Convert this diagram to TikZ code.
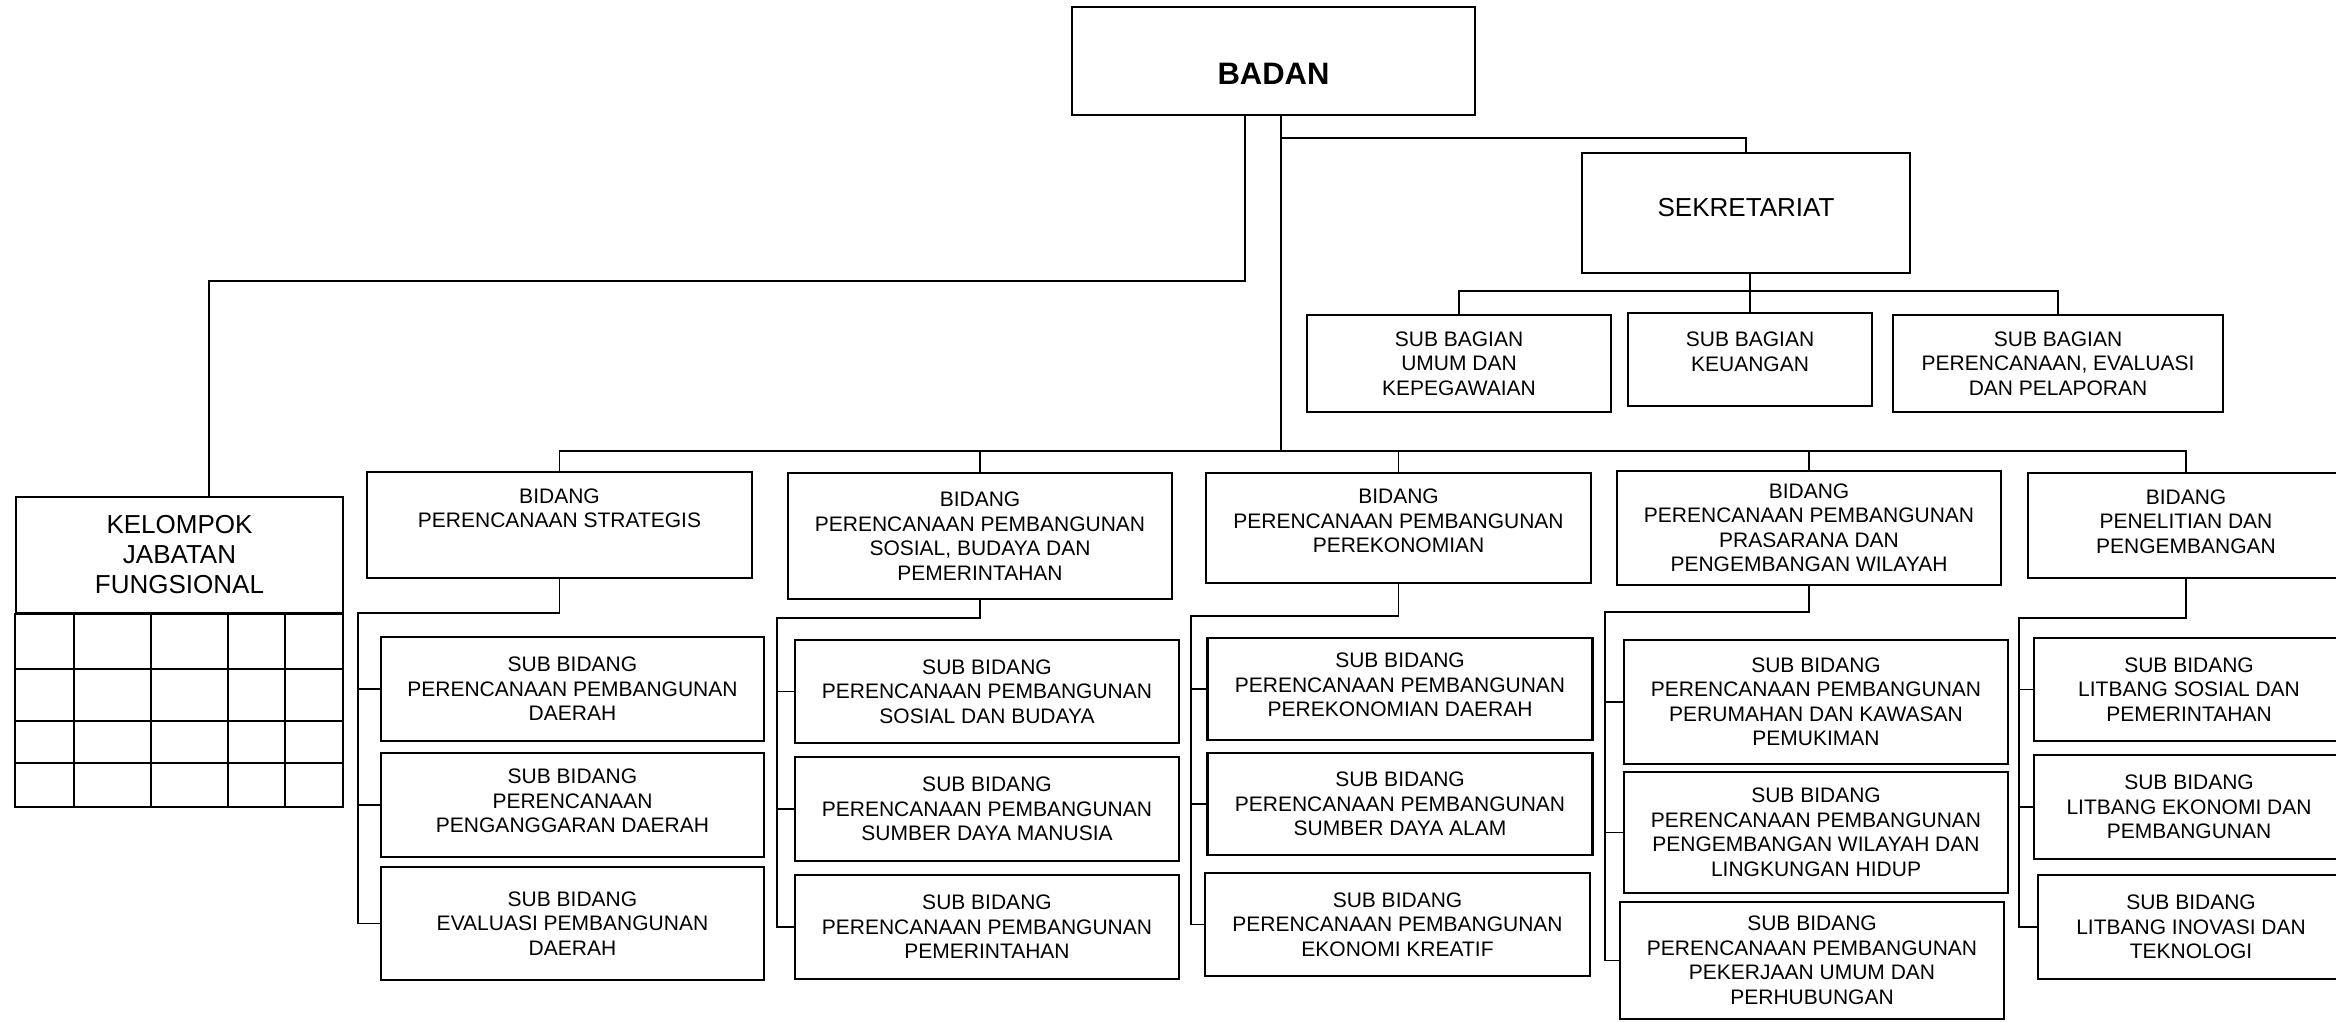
\documentclass[tikz,border=0pt]{standalone}
\usepackage{fontspec}
\setmainfont{Liberation Sans}
\usetikzlibrary{positioning}

\begin{document}
\begin{tikzpicture}[x=1pt, y=-1pt,
    unit/.style={rectangle, draw, line width=2.2pt, align=center, inner sep=1pt, font=\fontsize{21}{24.5}\selectfont},
    lift/.style={text depth=#1},
    drop/.style={text height=#1},
    link/.style={line width=1.6pt}]
    \useasboundingbox (0,0) rectangle (2336,1021);
    \clip (0,0) rectangle (2336,1021);

    % Top level
    \node[unit, drop=46pt, minimum width=403pt, minimum height=108pt, font=\fontsize{31}{34}\selectfont\bfseries] (BADAN) at (1273.5,61) {BADAN};

    % Sekretariat
    \node[unit, lift=12pt, minimum width=328pt, minimum height=120pt, font=\fontsize{26}{30}\selectfont] (SEKR) at (1746,213) {SEKRETARIAT};
    \node[unit, minimum width=304pt, minimum height=97pt] (SUBBAG1) at (1459,363.5) {SUB BAGIAN\\UMUM DAN\\KEPEGAWAIAN};
    \node[unit, lift=16pt, minimum width=244pt, minimum height=93pt] (SUBBAG2) at (1750,359.5) {SUB BAGIAN\\KEUANGAN};
    \node[unit, minimum width=330pt, minimum height=97pt] (SUBBAG3) at (2058,363.5) {SUB BAGIAN\\PERENCANAAN, EVALUASI\\DAN PELAPORAN};

    % Kelompok jabatan fungsional
    \node[unit, minimum width=327pt, minimum height=116pt, font=\fontsize{26}{30}\selectfont] (JF) at (179.5,555) {KELOMPOK\\JABATAN\\FUNGSIONAL};
    \draw[line width=2.2pt] (JF.south west) rectangle (343,807);
    \foreach \y in {669,721,763} \draw[link] (16,\y) -- (343,\y);
    \foreach \x in {74,151,228,285} \draw[link] (\x,613) -- (\x,807);

    % Bidang
    \node[unit, lift=34pt, minimum width=385pt, minimum height=106pt] (BID1) at (559.5,525) {BIDANG\\PERENCANAAN STRATEGIS};
    \node[unit, minimum width=384pt, minimum height=126pt] (BID2) at (980,536) {BIDANG\\PERENCANAAN PEMBANGUNAN\\SOSIAL, BUDAYA DAN\\PEMERINTAHAN};
    \node[unit, lift=14pt, minimum width=385pt, minimum height=110pt] (BID3) at (1398.5,528) {BIDANG\\PERENCANAAN PEMBANGUNAN\\PEREKONOMIAN};
    \node[unit, minimum width=384pt, minimum height=114pt] (BID4) at (1809,528) {BIDANG\\PERENCANAAN PEMBANGUNAN\\PRASARANA DAN\\PENGEMBANGAN WILAYAH};
    \node[unit, lift=8pt, minimum width=316pt, minimum height=105pt] (BID5) at (2186,525.5) {BIDANG\\PENELITIAN DAN\\PENGEMBANGAN};

    % Sub bidang
    \node[unit, minimum width=383pt, minimum height=104pt] (SUB11) at (572.5,689) {SUB BIDANG\\PERENCANAAN PEMBANGUNAN\\DAERAH};
    \node[unit, lift=8pt, minimum width=383pt, minimum height=104pt] (SUB12) at (572.5,805) {SUB BIDANG\\PERENCANAAN\\PENGANGGARAN DAERAH};
    \node[unit, minimum width=383pt, minimum height=113pt] (SUB13) at (572.5,923.5) {SUB BIDANG\\EVALUASI PEMBANGUNAN\\DAERAH};

    \node[unit, minimum width=384pt, minimum height=103pt] (SUB21) at (987,691.5) {SUB BIDANG\\PERENCANAAN PEMBANGUNAN\\SOSIAL DAN BUDAYA};
    \node[unit, minimum width=384pt, minimum height=104pt] (SUB22) at (987,809) {SUB BIDANG\\PERENCANAAN PEMBANGUNAN\\SUMBER DAYA MANUSIA};
    \node[unit, minimum width=384pt, minimum height=104pt] (SUB23) at (987,927) {SUB BIDANG\\PERENCANAAN PEMBANGUNAN\\PEMERINTAHAN};

    \node[unit, lift=8pt, minimum width=385pt, minimum height=102pt] (SUB31) at (1400,689) {SUB BIDANG\\PERENCANAAN PEMBANGUNAN\\PEREKONOMIAN DAERAH};
    \node[unit, minimum width=385pt, minimum height=102pt] (SUB32) at (1400,804) {SUB BIDANG\\PERENCANAAN PEMBANGUNAN\\SUMBER DAYA ALAM};
    \node[unit, minimum width=385pt, minimum height=103pt] (SUB33) at (1397.5,924.5) {SUB BIDANG\\PERENCANAAN PEMBANGUNAN\\EKONOMI KREATIF};

    \node[unit, minimum width=384pt, minimum height=124pt] (SUB41) at (1816,702) {SUB BIDANG\\PERENCANAAN PEMBANGUNAN\\PERUMAHAN DAN KAWASAN\\PEMUKIMAN};
    \node[unit, minimum width=384pt, minimum height=121pt] (SUB42) at (1816,832.5) {SUB BIDANG\\PERENCANAAN PEMBANGUNAN\\PENGEMBANGAN WILAYAH DAN\\LINGKUNGAN HIDUP};
    \node[unit, minimum width=384pt, minimum height=117pt] (SUB43) at (1812,960.5) {SUB BIDANG\\PERENCANAAN PEMBANGUNAN\\PEKERJAAN UMUM DAN\\PERHUBUNGAN};

    \node[unit, minimum width=310pt, minimum height=103pt] (SUB51) at (2189,689.5) {SUB BIDANG\\LITBANG SOSIAL DAN\\PEMERINTAHAN};
    \node[unit, minimum width=310pt, minimum height=104pt] (SUB52) at (2189,807) {SUB BIDANG\\LITBANG EKONOMI DAN\\PEMBANGUNAN};
    \node[unit, minimum width=306pt, minimum height=104pt] (SUB53) at (2191,927) {SUB BIDANG\\LITBANG INOVASI DAN\\TEKNOLOGI};

    % Connections
    \coordinate (BUS) at (1281,451);
    \coordinate (SEKJ) at (1281,138);
    \coordinate (GAP) at (1245,281);
    \coordinate (SBJ) at (1750,291);

    \draw[link] ([xshift=7.5pt]BADAN.south) -- (BUS);
    \draw[link] ([xshift=-28.5pt]BADAN.south) -- (GAP) -| ([xshift=29.5pt]JF.north);
    \draw[link] (SEKJ) -| (SEKR.north);

    \draw[link] (SUBBAG2.north |- SEKR.south) -- (SUBBAG2.north);
    \draw[link] (SUBBAG1.north) -- (SUBBAG1.north |- SBJ) -- (SUBBAG3.north |- SBJ) -- (SUBBAG3.north);

    \draw[link] (BID1.north) -- (BID1.north |- BUS) -- (BID5.north |- BUS) -- (BID5.north);
    \foreach \b in {BID2,BID3,BID4} \draw[link] (\b.north) -- (\b.north |- BUS);

    \coordinate (S1) at (358,613);
    \coordinate (S2) at (777,618);
    \coordinate (S3) at (1191,616);
    \coordinate (S4) at (1605,612);
    \coordinate (S5) at (2019,618);
    \foreach \i in {1,...,5} {
        \draw[link] (BID\i.south) |- (S\i) |- (SUB\i3.west);
        \foreach \j in {1,2} \draw[link] (SUB\i\j.west) -- (SUB\i\j.west -| S\i);
    }
\end{tikzpicture}
\end{document}
